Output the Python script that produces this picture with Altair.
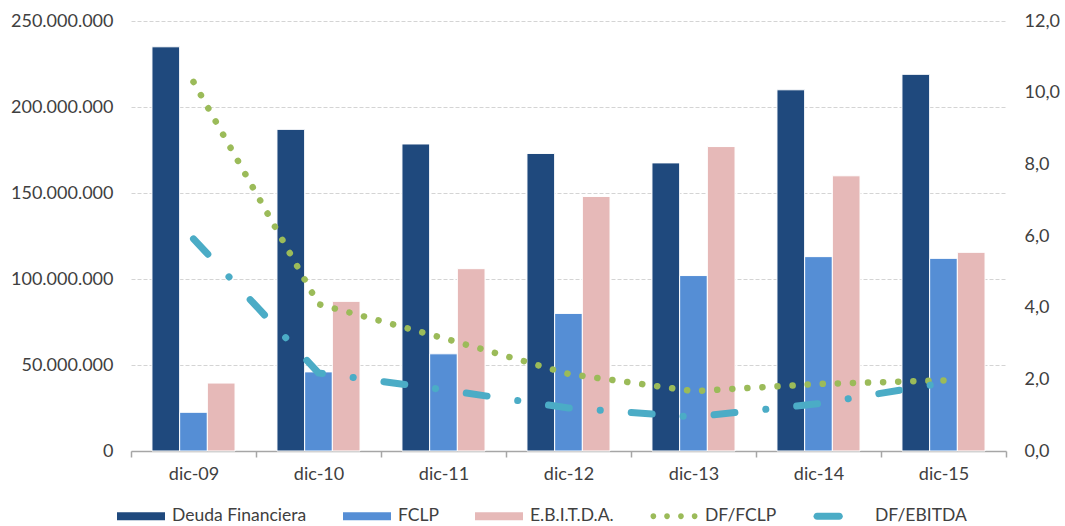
import altair as alt
import pandas as pd

# ---- data ----
fechas = ["dic-09", "dic-10", "dic-11", "dic-12", "dic-13", "dic-14", "dic-15"]
deuda_financiera = [235.0e6, 187.0e6, 178.5e6, 173.0e6, 167.5e6, 210.0e6, 219.0e6]
fclp = [22.5e6, 46.0e6, 56.5e6, 80.0e6, 102.0e6, 113.0e6, 112.0e6]
ebitda = [39.5e6, 87.0e6, 106.0e6, 148.0e6, 177.0e6, 160.0e6, 115.5e6]
df_fclp = [10.3, 4.1, 3.15, 2.15, 1.67, 1.87, 1.97]
df_ebitda = [5.92, 2.18, 1.71, 1.2, 0.95, 1.32, 1.9]

series_barras = ["Deuda Financiera", "FCLP", "E.B.I.T.D.A."]
series_lineas = ["DF/FCLP", "DF/EBITDA"]
colores = ["#1F497D", "#558ED5", "#E6B9B8", "#9BBB59", "#4BACC6"]

left_ticks = [0, 50e6, 100e6, 150e6, 200e6, 250e6]
right_ticks = [0, 2, 4, 6, 8, 10, 12]

# ---- tables ----
rows = []
for serie, vals in zip(series_barras, [deuda_financiera, fclp, ebitda]):
    for f, v in zip(fechas, vals):
        rows.append({"fecha": f, "serie": serie, "valor": v})
df_bars = pd.DataFrame(rows)
df_l1 = pd.DataFrame({"fecha": fechas, "ratio": df_fclp, "serie": "DF/FCLP"})
df_l2 = pd.DataFrame({"fecha": fechas, "ratio": df_ebitda, "serie": "DF/EBITDA"})

FONT = "Lato"
TXT = "#404040"
FS = 18

RECT = "M-1,-0.17L1,-0.17L1,0.17L-1,0.17Z"
def circ(cx, r=0.12):
    return (f"M{cx - r},0a{r},{r} 0 1,0 {2 * r},0a{r},{r} 0 1,0 {-2 * r},0Z")
DOTS = "".join(circ(c) for c in [-0.86, -0.29, 0.29, 0.86])
DASH = ("M-1.12,-0.15L-0.2,-0.15A0.15,0.15 0 0,1 -0.2,0.15"
        "L-1.12,0.15A0.15,0.15 0 0,1 -1.12,-0.15Z")

shape_expr = (
    f"datum.value === 'DF/FCLP' ? '{DOTS}' : "
    f"(datum.value === 'DF/EBITDA' ? '{DASH}' : '{RECT}')"
)

color_scale = alt.Scale(domain=series_barras + series_lineas, range=colores)

legend = alt.Legend(
    title=None,
    orient="none",
    legendX=-14,
    legendY=471,
    direction="horizontal",
    columns=5,
    columnPadding=36,
    labelFont=FONT,
    labelFontSize=17.5,
    labelColor=TXT,
    labelOffset=7,
    symbolSize=2304,
    symbolStrokeWidth=0,
    symbolStrokeColor="transparent",
    symbolType=alt.ExprRef(expr=shape_expr),
)

x_enc = alt.X(
    "fecha:N",
    sort=fechas,
    scale=alt.Scale(paddingInner=0, paddingOuter=0),
    axis=alt.Axis(
        title=None,
        labelAngle=0,
        tickBand="extent",
        domainColor="#a6a6a6",
        domainWidth=1.5,
        tickColor="#a6a6a6",
        tickWidth=1.5,
        tickSize=6,
        labelPadding=8,
        labelFont=FONT,
        labelFontSize=FS,
        labelColor=TXT,
        grid=False,
    ),
)

bars = alt.Chart(df_bars).mark_bar(stroke="white", strokeWidth=1).encode(
    x=x_enc,
    xOffset=alt.XOffset(
        "serie:N",
        sort=series_barras,
        scale=alt.Scale(paddingInner=0, paddingOuter=0.757),
    ),
    y=alt.Y(
        "valor:Q",
        scale=alt.Scale(domain=[0, 250e6], nice=False),
        axis=alt.Axis(
            title=None,
            values=left_ticks,
            labelExpr="replace(format(datum.value, ',.0f'), /,/g, '.')",
            domain=False,
            ticks=False,
            labelPadding=18,
            labelFont=FONT,
            labelFontSize=FS,
            labelColor=TXT,
            grid=True,
            gridColor="#d4d4d4",
            gridDash=[4, 2],
            gridWidth=1,
        ),
    ),
    color=alt.Color("serie:N", scale=color_scale, legend=legend),
)

right_axis = alt.Axis(
    title=None,
    orient="right",
    values=right_ticks,
    labelExpr="replace(format(datum.value, '.1f'), '.', ',')",
    domain=False,
    ticks=False,
    grid=False,
    labelPadding=18,
    labelFont=FONT,
    labelFontSize=FS,
    labelColor=TXT,
)
y_right = alt.Y("ratio:Q", scale=alt.Scale(domain=[0, 12], nice=False), axis=right_axis)

line1 = alt.Chart(df_l1).mark_line(
    color="#9BBB59", strokeWidth=6.5, strokeDash=[0.1, 15], strokeCap="round"
).encode(x=alt.X("fecha:N", sort=fechas), y=y_right)

line2 = alt.Chart(df_l2).mark_line(
    color="#4BACC6", strokeWidth=7, strokeDash=[21, 31, 0.1, 31], strokeCap="round"
).encode(x=alt.X("fecha:N", sort=fechas), y=y_right)

lines = alt.layer(line1, line2)

chart = (
    alt.layer(bars, lines)
    .resolve_scale(y="independent")
    .properties(
        width=875,
        height=430,
        autosize=alt.AutoSizeParams(type="none"),
        padding={"left": 131, "top": 21, "right": 59, "bottom": 75},
        background="white",
    )
    .configure_view(stroke=None)
)

chart.save("out.html", embed_options={"renderer": "svg", "actions": False})
